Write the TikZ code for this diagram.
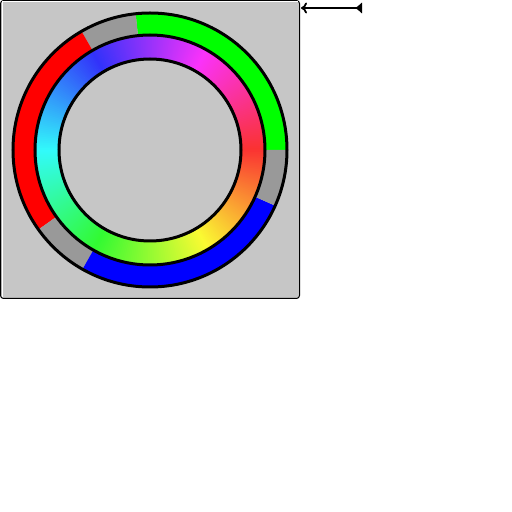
\documentclass[tikz,border=0pt]{standalone}
\usetikzlibrary{arrows.meta}
\definecolor{panelgray}{RGB}{198,198,198}
\definecolor{seggray}{RGB}{153,153,153}
\tikzset{
  ringline/.style={line width=3pt,draw=black},
}
\begin{document}
\begin{tikzpicture}[x=1pt,y=1pt]
\useasboundingbox (0,0) rectangle (512,512);
% panel
\draw[fill=panelgray,draw=black,line width=1pt,rounded corners=3pt] (0.5,511.5) rectangle (299.5,213.5);
\draw[white,line width=1pt] (2,212.5+2) -- (2,510) -- (298,510);
\begin{scope}[shift={(150,362)}]
  \def\ro{137}\def\rm{115}\def\ri{91}
  \newcommand\sector[3]{% color, a1, a2
    \fill[#1] (#2:\ro) arc[start angle=#2,end angle=#3,radius=\ro] -- (#3:\rm) arc[start angle=#3,end angle=#2,radius=\rm] -- cycle;}
  \sector{green}{-0.5}{96}
  \sector{seggray}{96}{120}
  \sector{red}{120}{215.5}
  \sector{seggray}{215.5}{240.5}
  \sector{blue}{240.5}{336}
  \sector{seggray}{336}{360}
  % hue ring
  \foreach \a in {0,...,359}{
    \pgfmathsetmacro\h{mod(360-\a,360)/360}
    \definecolor{huec}{hsb}{\h,0.8,0.98}
    \pgfmathsetmacro\b{\a+1.3}
    \fill[huec] (\a:\rm) arc[start angle=\a,end angle=\b,radius=\rm] -- (\b:\ri) arc[start angle=\b,end angle=\a,radius=\ri] -- cycle;
  }
  \draw[ringline] (0,0) circle[radius=\ro];
  \draw[ringline] (0,0) circle[radius=\rm];
  \draw[ringline] (0,0) circle[radius=\ri];
\end{scope}
% arrow
\coordinate (al) at (301,504);
\coordinate (ar) at (362,504);
\draw[line width=1.8pt,{To[length=6pt,width=11pt]}-{Latex[reversed,length=7pt,width=12pt]}] (al) -- (ar);
\end{tikzpicture}
\end{document}
